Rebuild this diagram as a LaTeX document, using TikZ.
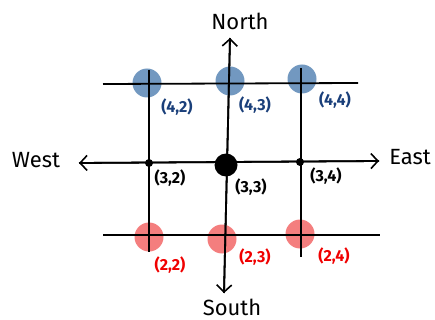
\documentclass[tikz,border=0pt]{standalone}
\usepackage{fontspec}
\setmainfont{Fira Sans}
\usetikzlibrary{arrows.meta}
\definecolor{bluedot}{HTML}{7298C0}
\definecolor{reddot}{HTML}{F47E7E}
\definecolor{bluetxt}{HTML}{1A3F7A}
\definecolor{redtxt}{HTML}{F00000}
\begin{document}
\begin{tikzpicture}[x=1pt,y=-1pt,
  gridline/.style={line width=1.8pt, black},
  arr/.style={gridline, -{Straight Barb[length=7pt,width=15pt,line width=1.6pt]}},
  bluec/.style={circle, fill=bluedot, minimum size=29pt, inner sep=0pt},
  redc/.style={circle, fill=reddot, minimum size=29pt, inner sep=0pt},
  smalldot/.style={circle, fill=black, minimum size=8pt, inner sep=0pt},
  bigdot/.style={circle, fill=black, minimum size=23pt, inner sep=0pt},
  lbl/.style={font=\fontsize{16}{16}\selectfont\bfseries},
  dirlbl/.style={font=\fontsize{22}{22}\selectfont}]
\useasboundingbox (0,0) rectangle (435,320);
% circles (behind lines)
\node[bluec] (b42) at (147,83) {};
\node[bluec] (b43) at (230,81) {};
\node[bluec] (b44) at (302,79) {};
\node[redc] (r22) at (149,237) {};
\node[redc] (r23) at (222,239) {};
\node[redc] (r24) at (300,234) {};
% line endpoints
\coordinate (tl) at (103,84);
\coordinate (tr) at (358,83);
\coordinate (bl) at (103,235);
\coordinate (br) at (380,235);
\coordinate (wl) at (79,163);
\coordinate (er) at (379,161);
\coordinate (nt) at (230,38);
\coordinate (sb) at (224,293);
\coordinate (v1t) at (149,70);
\coordinate (v1b) at (149,252);
\coordinate (v3t) at (301,68);
\coordinate (v3b) at (301,257);
% grid lines
\draw[gridline] (tl) -- (tr);
\draw[gridline] (bl) -- (br);
\draw[arr] (er) -- (wl);
\draw[arr] (wl) -- (er);
\draw[arr] (sb) -- (nt);
\draw[arr] (nt) -- (sb);
\draw[gridline] (v1t) -- (v1b);
\draw[gridline] (v3t) -- (v3b);
% dots
\node[smalldot] (d32) at (149,163) {};
\node[bigdot] (d33) at (226,165) {};
\node[smalldot] (d34) at (300,162) {};
% labels
\node[lbl, text=bluetxt] (l42) at (177,107) {(4,2)};
\node[lbl, text=bluetxt] (l43) at (255,105) {(4,3)};
\node[lbl, text=bluetxt] (l44) at (335,100) {(4,4)};
\node[lbl] (l32) at (170,178) {(3,2)};
\node[lbl] (l33) at (251,187) {(3,3)};
\node[lbl] (l34) at (326,176) {(3,4)};
\node[lbl, text=redtxt] (l22) at (170,265) {(2,2)};
\node[lbl, text=redtxt] (l23) at (255,257) {(2,3)};
\node[lbl, text=redtxt] (l24) at (334,256) {(2,4)};
\node[dirlbl] (north) at (240,21) {North};
\node[dirlbl] (south) at (232,307) {South};
\node[dirlbl] (west) at (36,160) {West};
\node[dirlbl] (east) at (410,157) {East};
\end{tikzpicture}
\end{document}
